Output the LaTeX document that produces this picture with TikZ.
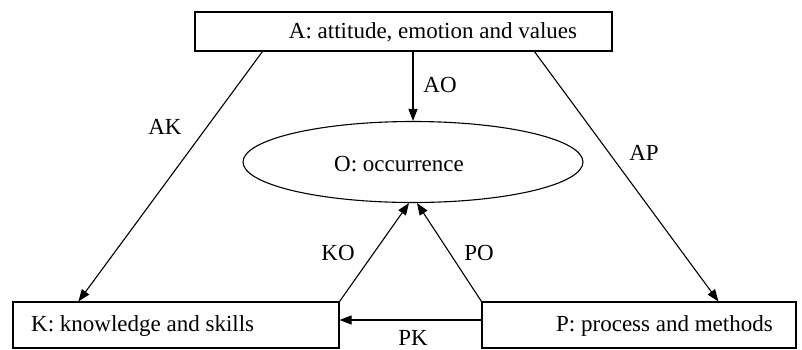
\documentclass[tikz,border=0pt]{standalone}
\usepackage{fontspec}
\setmainfont{Liberation Serif}
\usetikzlibrary{arrows.meta,calc,shapes.geometric}
\begin{document}
\begin{tikzpicture}[x=1pt,y=-1pt,
 box/.style={draw,line width=1.1pt,rectangle,inner sep=0pt},
 txt/.style={font=\fontsize{23}{27}\selectfont,inner sep=0pt},
 arr/.style={line width=1.1pt,-{Triangle[length=12pt,width=9pt]}}]
\useasboundingbox (0,0) rectangle (802,349);
\node[box,minimum width=417pt,minimum height=39pt] (A) at (403.5,31.5) {};
\node[box,minimum width=326pt,minimum height=46pt] (K) at (176,325) {};
\node[box,minimum width=314pt,minimum height=46pt] (P) at (639,325) {};
\node[draw,line width=1.1pt,ellipse,minimum width=340pt,minimum height=81pt,inner sep=0pt] (O) at (413,162) {};
\node[txt] (At) at (433,32) {A: attitude, emotion and values};
\node[txt,anchor=west] (Kt) at (31,326) {K: knowledge and skills};
\node[txt,anchor=west] (Pt) at (556,326) {P: process and methods};
\node[txt] (Ot) at (399,164) {O: occurrence};
\coordinate (AKs) at ($(A.south west)+(68,0)$);
\coordinate (AKe) at ($(K.north west)+(66,0)$);
\coordinate (APs) at ($(A.south west)+(340,0)$);
\coordinate (APe) at ($(P.north west)+(237,0)$);
\coordinate (KOe) at ($(O.south)+(-4,0)$);
\coordinate (POe) at ($(O.south)+(4,0)$);
\draw[arr] (AKs) -- (AKe);
\draw[arr] (APs) -- (APe);
\draw[arr] (A.south -| O.north) -- (O.north);
\draw[arr] (K.north east) -- (KOe);
\draw[arr] (P.north west) -- (POe);
\draw[arr] ($(P.west)+(0,-5)$) -- ($(K.east)+(0,-5)$);
\node[txt] (lAO) at (440,85) {AO};
\node[txt] (lAK) at (165,127) {AK};
\node[txt] (lAP) at (644,153) {AP};
\node[txt] (lKO) at (338,253) {KO};
\node[txt] (lPO) at (479,253) {PO};
\node[txt] (lPK) at (413,338) {PK};
\end{tikzpicture}
\end{document}
